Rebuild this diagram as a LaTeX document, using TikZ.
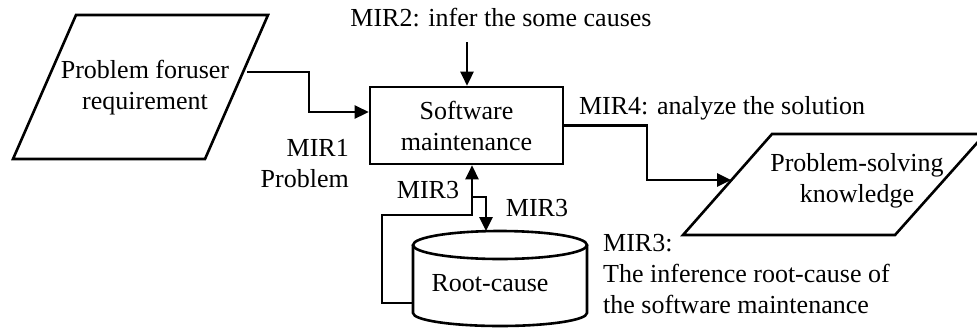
\documentclass[tikz,border=0pt]{standalone}
\usepackage{fontspec}
\setmainfont{Liberation Serif}
\usetikzlibrary{arrows.meta}
\tikzset{
  lbl/.style={font=\fontsize{26}{31}\selectfont, inner sep=0pt},
  conn/.style={line width=2.6pt, line join=miter},
  tip/.style={-{Triangle[length=14pt,width=13pt]}},
  box/.style={draw, line width=2.6pt, minimum width=193pt, minimum height=77pt,
    inner sep=0pt, align=center, font=\fontsize{26}{31}\selectfont},
  shapeline/.style={line width=2.6pt, line join=miter},
}
\begin{document}
\begin{tikzpicture}[x=1pt, y=-1pt]
\useasboundingbox (0,0) rectangle (977,327);
\clip (0,0) rectangle (977,327);

% input: user requirement (parallelogram)
\draw[shapeline] (76,15) -- (268,15) -- (205,159) -- (13,159) -- cycle;
\node[lbl, align=center] (preq) at (145,88) {Problem foruser\\requirement};
\coordinate (preq-out) at (247,72);

% central process
\node[box] (sm) at (466.5,125.5) {Software\\maintenance};

% output: knowledge (parallelogram)
\draw[shapeline] (772,134) -- (985,134) -- (895,235) -- (683,235) -- cycle;
\node[lbl, align=center] (psk) at (857,181) {Problem-solving\\knowledge};
\coordinate (psk-in) at (731,180);

% root-cause store (cylinder)
\draw[shapeline] (500,245) ellipse [x radius=87, y radius=14];
\draw[shapeline] (413,245) -- (413,313)
  arc[start angle=180, end angle=0, x radius=87, y radius=13] -- (587,245);
\node[lbl] (rc) at (490,283) {Root-cause};
\coordinate (rc-side) at (413,303);
\coordinate (rc-top) at (486,231);

% MIR2 input from above
\node[lbl] (mir2) at (501,18) {MIR2: infer the some causes};
\coordinate (mir2-end) at (467,42);
\draw[conn, tip] (mir2-end) -- (mir2-end |- sm.north);

% MIR1 problem into the process
\coordinate (mir1-turn) at (309,112);
\draw[conn, tip] (preq-out) -- (309,72) -- (mir1-turn) -- (sm.west |- mir1-turn);

% MIR1 label
\node[lbl, align=right, anchor=east] (mir1) at (349,164) {MIR1\\Problem};

% MIR4 solution out to knowledge
\draw[conn, tip] (sm.east) -- (647,125.5) -- (647,180) -- (psk-in);
\node[lbl] (mir4) at (722,108) {MIR4: analyze the solution};

% MIR3 exchange between store and process
\coordinate (split) at (472,197);
\coordinate (mir3-turn) at (472,215);
\draw[conn, tip] (rc-side) -- (382,303) -- (382,215) -- (mir3-turn) -- (mir3-turn |- sm.south);
\draw[conn, tip] (split) -- (486,197) -- (rc-top);
\node[lbl] (mir3a) at (428,190) {MIR3};
\node[lbl] (mir3b) at (537,208) {MIR3};

% MIR3 description
\node[lbl, align=left, anchor=west] (mir3c) at (603,274)
  {MIR3:\\The inference root-cause of\\the software maintenance};
\end{tikzpicture}
\end{document}
